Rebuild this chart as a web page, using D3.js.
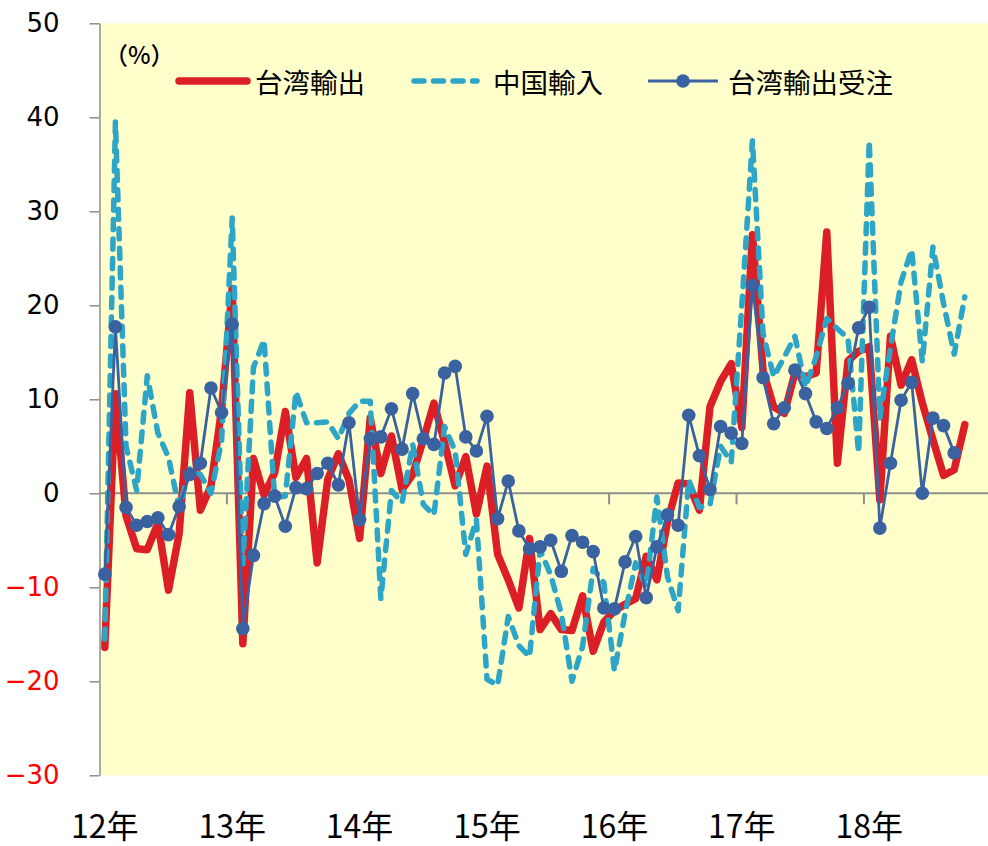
<!DOCTYPE html>
<html>
<head>
<meta charset="utf-8">
<script src="https://cdn.jsdelivr.net/npm/d3@7"></script>
<style>
  html, body { margin: 0; padding: 0; background: #ffffff; }
  svg { display: block; }
</style>
</head>
<body>
<svg id="chart" width="988" height="846"></svg>
<script>
// ---- data (前年同月比, %) ----
const years = ["12年", "13年", "14年", "15年", "16年", "17年", "18年"];
const yTicks = [-30, -20, -10, 0, 10, 20, 30, 40, 50];
const seriesNames = ["台湾輸出", "中国輸入", "台湾輸出受注"];

const taiwanExports = [
  -16.4, 10.6, -2.4, -5.9, -6.0, -3.2, -10.3, -4.3, 10.7, -1.8, 0.8, 8.9,
  21.8, -16.0, 3.7, -0.2, 2.2, 8.7, 1.7, 3.7, -7.4, 1.5, 4.2, 1.4,
  -4.8, 8.0, 2.1, 6.1, 0.4, 2.0, 5.7, 9.6, 5.4, 0.8, 3.9, -2.2,
  2.9, -6.5, -9.2, -12.2, -4.8, -14.5, -12.8, -14.5, -14.6, -10.9, -16.8, -13.7,
  -12.5, -11.8, -11.2, -6.7, -9.2, -3.0, 1.1, 1.0, -1.8, 9.2, 11.9, 13.8,
  7.0, 27.5, 13.0, 9.2, 8.5, 12.8, 12.4, 12.8, 27.8, 3.2, 14.1, 15.1,
  15.6, -0.7, 16.7, 11.5, 14.2, 9.6, 5.7, 1.9, 2.5, 7.3
];

const chinaImports = [
  -15.5, 39.5, 5.0, 0.3, 12.5, 6.4, 3.8, -1.6, 2.6, 2.0, 0.0, 5.6,
  29.3, -7.5, 13.4, 16.3, -0.5, -0.3, 10.8, 7.5, 7.5, 7.6, 5.8, 8.5,
  9.8, 9.8, -11.2, 0.3, -1.0, 5.2, -1.2, -2.3, 7.1, 4.5, -6.5, -2.8,
  -19.8, -20.4, -13.1, -16.2, -17.4, -6.0, -8.7, -12.8, -20.0, -16.3, -8.0, -9.5,
  -18.9, -12.8, -7.4, -9.9, -0.4, -8.9, -12.5, 1.4, -1.5, -1.2, 5.0, 3.3,
  20.0, 37.5, 17.0, 12.4, 14.5, 16.7, 11.3, 14.5, 18.6, 17.5, 16.5, 4.3,
  37.5, 8.0, 15.5, 22.5, 25.9, 14.0, 26.2, 20.2, 14.8, 20.9
];

const taiwanOrders = [
  -8.6, 17.7, -1.5, -3.4, -3.0, -2.6, -4.4, -1.4, 2.0, 3.2, 11.2, 8.6,
  18.0, -14.4, -6.6, -1.1, -0.3, -3.5, 0.6, 0.5, 2.1, 3.2, 0.9, 7.5,
  -2.8, 5.8, 6.0, 9.0, 4.7, 10.6, 5.8, 5.2, 12.8, 13.5, 6.0, 4.5,
  8.2, -2.7, 1.3, -4.0, -5.9, -5.7, -5.0, -8.3, -4.5, -5.2, -6.2, -12.2,
  -12.3, -7.3, -4.6, -11.1, -5.7, -2.3, -3.4, 8.3, 4.0, 0.4, 7.1, 6.4,
  5.3, 22.1, 12.3, 7.4, 9.1, 13.1, 10.6, 7.6, 6.9, 9.1, 11.7, 17.6,
  19.8, -3.7, 3.2, 9.9, 11.8, 0.0, 8.0, 7.2, 4.3
];

// monthly categories, Jan 2012 – Dec 2018
const months = years.flatMap(yr => d3.range(1, 13).map(m => yr + m + "月"));
const januaries = years.map(yr => yr + "1月");

// ---- layout ----
const plotLeft = 99.5, plotTop = 23.3, plotBottom = 775.3;
const monthStep = 10.617;
const plotRight = plotLeft + months.length * monthStep;

const colors = { exports: "#DC1F27", imports: "#2DA5C6", orders: "#3A62A0" };
const axisGray = "#8E8E8E";
const cjkFont = "'Noto Sans CJK JP', 'Noto Sans', sans-serif";

const svg = d3.select("#chart");

const x = d3.scaleBand().domain(months).range([plotLeft, plotRight]).padding(0);
const cx = m => x(m) + x.bandwidth() / 2;
const y = d3.scaleLinear().domain([-30, 50]).range([plotBottom, plotTop]);

// plot background
svg.append("rect")
  .attr("x", plotLeft).attr("y", plotTop)
  .attr("width", plotRight - plotLeft).attr("height", plotBottom - plotTop)
  .attr("fill", "#FFFFCC");

// y axis
const yAxis = svg.append("g")
  .attr("transform", `translate(${plotLeft},0)`)
  .call(d3.axisLeft(y).tickValues(yTicks).tickSize(10).tickSizeOuter(0).tickPadding(30));
yAxis.select(".domain").attr("stroke", axisGray).attr("stroke-width", 1.5);
yAxis.selectAll(".tick line").attr("stroke", axisGray).attr("stroke-width", 1.5);
yAxis.selectAll(".tick text")
  .attr("font-family", "'DejaVu Sans', sans-serif")
  .attr("font-size", 26)
  .attr("fill", d => d < 0 ? "#FF0000" : "#000000");

// zero line with year-boundary ticks
svg.append("line")
  .attr("x1", plotLeft).attr("x2", plotRight)
  .attr("y1", y(0)).attr("y2", y(0))
  .attr("stroke", axisGray).attr("stroke-width", 2);
svg.append("g").selectAll("line")
  .data(januaries.slice(1))
  .join("line")
  .attr("x1", d => x(d)).attr("x2", d => x(d))
  .attr("y1", y(0)).attr("y2", y(0) + 11)
  .attr("stroke", axisGray).attr("stroke-width", 2);

// year labels
svg.append("g").selectAll("text")
  .data(januaries)
  .join("text")
  .attr("x", d => cx(d))
  .attr("y", 838)
  .attr("text-anchor", "middle")
  .attr("font-family", cjkFont)
  .attr("font-size", 32)
  .attr("fill", "#000")
  .text((d, i) => years[i]);

// series
const line = d3.line()
  .x((d, i) => cx(months[i]))
  .y(d => y(d));

svg.append("path")
  .datum(taiwanExports)
  .attr("d", line)
  .attr("fill", "none")
  .attr("stroke", colors.exports)
  .attr("stroke-width", 7.5)
  .attr("stroke-linejoin", "round")
  .attr("stroke-linecap", "round");

svg.append("path")
  .datum(chinaImports)
  .attr("d", line)
  .attr("fill", "none")
  .attr("stroke", colors.imports)
  .attr("stroke-width", 5.5)
  .attr("stroke-dasharray", "10,9.5")
  .attr("stroke-linejoin", "round")
  .attr("stroke-linecap", "round");

svg.append("path")
  .datum(taiwanOrders)
  .attr("d", line)
  .attr("fill", "none")
  .attr("stroke", colors.orders)
  .attr("stroke-width", 2.8)
  .attr("stroke-linejoin", "round");

svg.append("g").selectAll("circle")
  .data(taiwanOrders)
  .join("circle")
  .attr("cx", (d, i) => cx(months[i]))
  .attr("cy", d => y(d))
  .attr("r", 6.8)
  .attr("fill", colors.orders);

// unit label
svg.append("text")
  .attr("x", 104).attr("y", 53)
  .attr("dominant-baseline", "central")
  .attr("font-family", cjkFont)
  .attr("font-size", 24)
  .attr("font-weight", 500)
  .attr("fill", "#000")
  .text("（%）");

// legend
const legendY = 81;
const legendItems = [
  { name: seriesNames[0], x1: 179, x2: 247, tx: 255, stroke: colors.exports, width: 7.5, dash: null, marker: false },
  { name: seriesNames[1], x1: 414, x2: 477, tx: 493, stroke: colors.imports, width: 5.5, dash: "10,9.5", marker: false },
  { name: seriesNames[2], x1: 648, x2: 718, tx: 728, stroke: colors.orders, width: 2.8, dash: null, marker: true }
];
const legend = svg.append("g");
legendItems.forEach(it => {
  legend.append("line")
    .attr("x1", it.x1).attr("x2", it.x2)
    .attr("y1", legendY).attr("y2", legendY)
    .attr("stroke", it.stroke)
    .attr("stroke-width", it.width)
    .attr("stroke-linecap", it.marker ? "butt" : "round")
    .attr("stroke-dasharray", it.dash);
  if (it.marker) {
    legend.append("circle")
      .attr("cx", (it.x1 + it.x2) / 2).attr("cy", legendY)
      .attr("r", 6.8).attr("fill", it.stroke);
  }
  legend.append("text")
    .attr("x", it.tx).attr("y", legendY)
    .attr("dominant-baseline", "central")
    .attr("font-family", cjkFont)
    .attr("font-size", 27.5)
    .attr("fill", "#000")
    .text(it.name);
});
</script>
</body>
</html>
